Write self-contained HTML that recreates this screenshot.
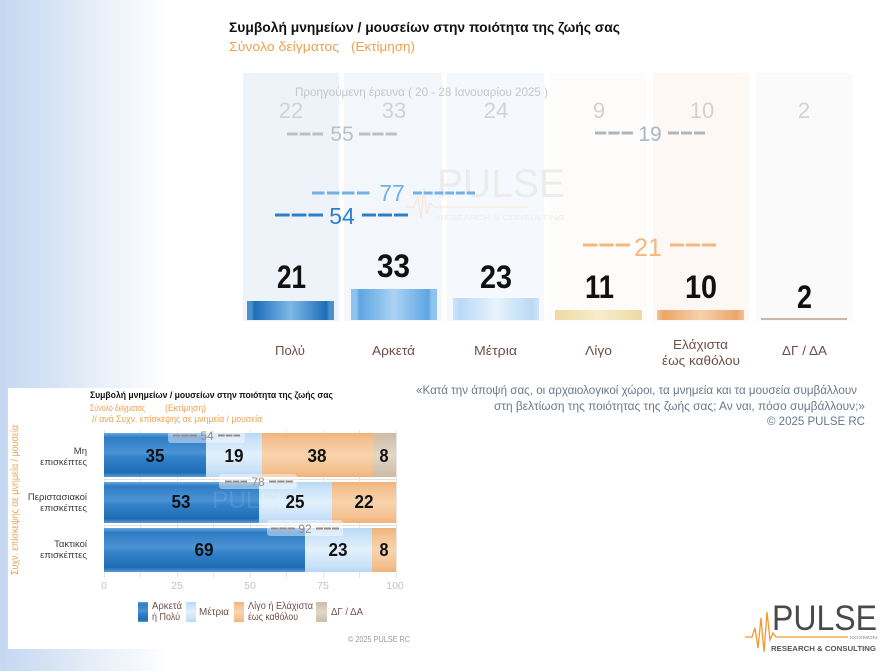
<!DOCTYPE html>
<html><head><meta charset="utf-8"><style>
html,body{margin:0;padding:0;background:#fff;}
svg{display:block;font-family:"Liberation Sans","DejaVu Sans",sans-serif;}
</style></head><body>
<svg width="887" height="671" viewBox="0 0 887 671" xmlns="http://www.w3.org/2000/svg">
<defs>
<linearGradient id="bgL" x1="0" x2="1" y1="0" y2="0">
<stop offset="0" stop-color="#c5d7f1"/><stop offset="0.3" stop-color="#d6e3f4"/><stop offset="0.6" stop-color="#e9f0fa"/><stop offset="0.88" stop-color="#f8fafd"/><stop offset="1" stop-color="#ffffff"/>
</linearGradient>
<linearGradient id="g1" x1="0" x2="1" y1="0" y2="0">
<stop offset="0" stop-color="#4b8fcb"/><stop offset="0.05" stop-color="#4b8fcb"/><stop offset="0.09" stop-color="#1e6db6"/><stop offset="0.3" stop-color="#4f95d5"/><stop offset="0.5" stop-color="#80b8e6"/><stop offset="0.7" stop-color="#4f95d5"/><stop offset="0.91" stop-color="#1e6db6"/><stop offset="0.95" stop-color="#4b8fcb"/><stop offset="1" stop-color="#4b8fcb"/>
</linearGradient>
<linearGradient id="g2" x1="0" x2="1" y1="0" y2="0">
<stop offset="0" stop-color="#8ec3ef"/><stop offset="0.06" stop-color="#8ec3ef"/><stop offset="0.1" stop-color="#5ea5e3"/><stop offset="0.5" stop-color="#acd3f4"/><stop offset="0.9" stop-color="#5ea5e3"/><stop offset="0.94" stop-color="#8ec3ef"/><stop offset="1" stop-color="#8ec3ef"/>
</linearGradient>
<linearGradient id="g3" x1="0" x2="1" y1="0" y2="0">
<stop offset="0" stop-color="#cfe5f9"/><stop offset="0.08" stop-color="#b9d9f5"/><stop offset="0.5" stop-color="#e8f3fd"/><stop offset="0.92" stop-color="#b9d9f5"/><stop offset="1" stop-color="#cfe5f9"/>
</linearGradient>
<linearGradient id="g4" x1="0" x2="1" y1="0" y2="0">
<stop offset="0" stop-color="#eed9a2"/><stop offset="0.5" stop-color="#f7edcb"/><stop offset="1" stop-color="#eed9a2"/>
</linearGradient>
<linearGradient id="g5" x1="0" x2="1" y1="0" y2="0">
<stop offset="0" stop-color="#f2c397"/><stop offset="0.08" stop-color="#eda66a"/><stop offset="0.5" stop-color="#f7d0ac"/><stop offset="0.92" stop-color="#eda66a"/><stop offset="1" stop-color="#f2c397"/>
</linearGradient>
<linearGradient id="hb1" x1="0" x2="0" y1="0" y2="1">
<stop offset="0" stop-color="#6aa8e0"/><stop offset="0.1" stop-color="#2f7cc4"/><stop offset="0.45" stop-color="#4b93d4"/><stop offset="0.55" stop-color="#3383ca"/><stop offset="0.9" stop-color="#1f6cb4"/><stop offset="1" stop-color="#5a9cd8"/>
</linearGradient>
<linearGradient id="hb2" x1="0" x2="0" y1="0" y2="1">
<stop offset="0" stop-color="#b7d8f5"/><stop offset="0.15" stop-color="#c9e2f8"/><stop offset="0.5" stop-color="#e2f0fc"/><stop offset="0.85" stop-color="#c9e2f8"/><stop offset="1" stop-color="#b7d8f5"/>
</linearGradient>
<linearGradient id="hb3" x1="0" x2="0" y1="0" y2="1">
<stop offset="0" stop-color="#f0b27a"/><stop offset="0.15" stop-color="#f4c190"/><stop offset="0.5" stop-color="#f8d3ae"/><stop offset="0.85" stop-color="#f4c190"/><stop offset="1" stop-color="#f0b27a"/>
</linearGradient>
<linearGradient id="hb4" x1="0" x2="0" y1="0" y2="1">
<stop offset="0" stop-color="#cdbca6"/><stop offset="0.5" stop-color="#e2d6c6"/><stop offset="1" stop-color="#cdbca6"/>
</linearGradient>
</defs>

<rect x="0" y="0" width="168" height="671" fill="url(#bgL)"/>

<!-- ============ TOP CHART ============ -->
<text x="229" y="32" font-size="14" font-weight="bold" fill="#111" textLength="391" lengthAdjust="spacingAndGlyphs">Συμβολή μνημείων / μουσείων στην ποιότητα της ζωής σας</text>
<text x="229" y="51" font-size="13" fill="#f0a050" textLength="110" lengthAdjust="spacingAndGlyphs">Σύνολο δείγματος</text>
<text x="351" y="51" font-size="13" fill="#f0a050" textLength="64" lengthAdjust="spacingAndGlyphs">(Εκτίμηση)</text>

<rect x="243" y="73" width="96" height="248" fill="#eef3f9"/>
<rect x="344" y="73" width="98" height="248" fill="#f3f7fc"/>
<rect x="447" y="73" width="97" height="248" fill="#f5f9fd"/>
<rect x="550" y="73" width="97" height="248" fill="#fdfcfa"/>
<rect x="653" y="73" width="96" height="248" fill="#fdf8f3"/>
<rect x="756" y="73" width="97" height="248" fill="#fafafa"/>

<text x="437" y="197" font-size="40" fill="#ececec" textLength="128" lengthAdjust="spacingAndGlyphs">PULSE</text>
<text x="437" y="220" font-size="7" fill="#ececec" textLength="128" lengthAdjust="spacingAndGlyphs">RESEARCH &amp; CONSULTING</text>
<polyline points="405,207 414,207 418,196 421,218 424,188 427,214 430,203 434,207 528,207" fill="none" stroke="#f9e4d0" stroke-width="1"/>

<text x="295" y="96" font-size="12" fill="#c3c7cc" textLength="253" lengthAdjust="spacingAndGlyphs">Προηγούμενη έρευνα ( 20 - 28 Ιανουαρίου 2025 )</text>

<g font-size="22" fill="#d2d2d2" text-anchor="middle">
<text x="291" y="118">22</text>
<text x="394" y="118">33</text>
<text x="496" y="118">24</text>
<text x="599" y="118">9</text>
<text x="702" y="118">10</text>
<text x="804" y="118">2</text>
</g>

<line x1="287" y1="134" x2="323" y2="134" stroke="#b9c1c8" stroke-width="3" stroke-dasharray="10.7 2"/>
<line x1="359" y1="134" x2="397" y2="134" stroke="#b9c1c8" stroke-width="3" stroke-dasharray="11.3 2"/>
<text x="342" y="141" font-size="21" fill="#b9c1c8" text-anchor="middle">55</text>
<line x1="595" y1="133" x2="633" y2="133" stroke="#a9b7c3" stroke-width="3" stroke-dasharray="11.3 2"/>
<line x1="668" y1="133" x2="705" y2="133" stroke="#a9b7c3" stroke-width="3" stroke-dasharray="11 2"/>
<text x="650" y="141" font-size="21" fill="#a9b7c3" text-anchor="middle">19</text>
<line x1="312" y1="193" x2="370" y2="193" stroke="#72b0e8" stroke-width="3" stroke-dasharray="12.5 2.5"/>
<line x1="413" y1="193" x2="475" y2="193" stroke="#72b0e8" stroke-width="3" stroke-dasharray="9 1.7"/>
<text x="392" y="201" font-size="23" fill="#72b0e8" text-anchor="middle">77</text>
<line x1="275" y1="215" x2="323" y2="215" stroke="#2f7fc6" stroke-width="3" stroke-dasharray="14.7 2"/>
<line x1="362" y1="215" x2="408" y2="215" stroke="#2f7fc6" stroke-width="3" stroke-dasharray="14 2"/>
<text x="342" y="224" font-size="23" fill="#2f7fc6" text-anchor="middle">54</text>
<line x1="583" y1="245" x2="630" y2="245" stroke="#f5b77c" stroke-width="3" stroke-dasharray="14.3 2"/>
<line x1="670" y1="245" x2="716" y2="245" stroke="#f5b77c" stroke-width="3" stroke-dasharray="14 2"/>
<text x="648" y="256" font-size="25" fill="#f5b77c" text-anchor="middle">21</text>

<rect x="247" y="301" width="87" height="19" fill="url(#g1)"/>
<rect x="351" y="289" width="86" height="31" fill="url(#g2)"/>
<rect x="453" y="298" width="86" height="22" fill="url(#g3)"/>
<rect x="555" y="310" width="87" height="10" fill="url(#g4)"/>
<rect x="657" y="310" width="87" height="10" fill="url(#g5)"/>
<rect x="761" y="318" width="86" height="2" fill="#c8b6a6"/>

<g font-size="32" font-weight="bold" fill="#111">
<text x="277" y="288" textLength="29" lengthAdjust="spacingAndGlyphs">21</text>
<text x="377" y="277" textLength="33" lengthAdjust="spacingAndGlyphs">33</text>
<text x="480" y="288" textLength="32" lengthAdjust="spacingAndGlyphs">23</text>
<text x="585" y="298" textLength="29" lengthAdjust="spacingAndGlyphs">11</text>
<text x="685" y="298" textLength="32" lengthAdjust="spacingAndGlyphs">10</text>
<text x="797" y="308" textLength="15" lengthAdjust="spacingAndGlyphs">2</text>
</g>

<g font-size="13" fill="#6e5048">
<text x="275" y="355" textLength="30" lengthAdjust="spacingAndGlyphs">Πολύ</text>
<text x="372" y="355" textLength="43" lengthAdjust="spacingAndGlyphs">Αρκετά</text>
<text x="474" y="355" textLength="43" lengthAdjust="spacingAndGlyphs">Μέτρια</text>
<text x="585" y="355" textLength="27" lengthAdjust="spacingAndGlyphs">Λίγο</text>
<text x="673" y="349" textLength="55" lengthAdjust="spacingAndGlyphs">Ελάχιστα</text>
<text x="662" y="365" textLength="78" lengthAdjust="spacingAndGlyphs">έως καθόλου</text>
<text x="782" y="355" textLength="45" lengthAdjust="spacingAndGlyphs">ΔΓ / ΔΑ</text>
</g>

<!-- ============ BOTTOM LEFT CARD ============ -->
<rect x="8" y="388" width="412" height="261" fill="#ffffff"/>

<text x="90" y="398" font-size="9.5" font-weight="bold" fill="#111" textLength="243" lengthAdjust="spacingAndGlyphs">Συμβολή μνημείων / μουσείων στην ποιότητα της ζωής σας</text>
<text x="90" y="411" font-size="9.5" fill="#f0a050" textLength="55" lengthAdjust="spacingAndGlyphs">Σύνολο δείγματος</text>
<text x="165" y="411" font-size="9.5" fill="#f0a050" textLength="41" lengthAdjust="spacingAndGlyphs">(Εκτίμηση)</text>
<text x="92" y="422" font-size="9.5" fill="#f0a050" textLength="170" lengthAdjust="spacingAndGlyphs">// ανά Συχν. επίσκεψης σε μνημεία / μουσεία</text>

<text transform="translate(18,575) rotate(-90)" font-size="10" fill="#f0a050" textLength="150" lengthAdjust="spacingAndGlyphs">Συχν. επίσκεψης σε μνημεία / μουσεία</text>

<g stroke="#e6e6e6" stroke-width="1">
<line x1="104.5" y1="430" x2="104.5" y2="578"/>
<line x1="140.5" y1="430" x2="140.5" y2="578"/>
<line x1="177.5" y1="430" x2="177.5" y2="578"/>
<line x1="213.5" y1="430" x2="213.5" y2="578"/>
<line x1="250.5" y1="430" x2="250.5" y2="578"/>
<line x1="286.5" y1="430" x2="286.5" y2="578"/>
<line x1="323.5" y1="430" x2="323.5" y2="578"/>
<line x1="359.5" y1="430" x2="359.5" y2="578"/>
<line x1="396.5" y1="430" x2="396.5" y2="578"/>
</g>
<line x1="104" y1="479.5" x2="396" y2="479.5" stroke="#e0e0e0"/>
<line x1="104" y1="525.5" x2="396" y2="525.5" stroke="#e0e0e0"/>

<rect x="104" y="433" width="102" height="44" fill="url(#hb1)"/>
<rect x="206" y="433" width="56" height="44" fill="url(#hb2)"/>
<rect x="262" y="433" width="111" height="44" fill="url(#hb3)"/>
<rect x="373" y="433" width="23" height="44" fill="url(#hb4)"/>
<rect x="104" y="482" width="155" height="41" fill="url(#hb1)"/>
<rect x="259" y="482" width="73" height="41" fill="url(#hb2)"/>
<rect x="332" y="482" width="64" height="41" fill="url(#hb3)"/>
<rect x="104" y="528" width="201" height="44" fill="url(#hb1)"/>
<rect x="305" y="528" width="67" height="44" fill="url(#hb2)"/>
<rect x="372" y="528" width="24" height="44" fill="url(#hb3)"/>

<text x="212" y="508" font-size="24" fill="#ffffff" fill-opacity="0.1" textLength="80" lengthAdjust="spacingAndGlyphs">PULSE</text>

<g font-size="18" font-weight="bold" fill="#111" text-anchor="middle">
<text x="155" y="462" textLength="19" lengthAdjust="spacingAndGlyphs">35</text>
<text x="234" y="462" textLength="19" lengthAdjust="spacingAndGlyphs">19</text>
<text x="317" y="462" textLength="19" lengthAdjust="spacingAndGlyphs">38</text>
<text x="384" y="462" textLength="9" lengthAdjust="spacingAndGlyphs">8</text>
<text x="181" y="508" textLength="19" lengthAdjust="spacingAndGlyphs">53</text>
<text x="295" y="508" textLength="19" lengthAdjust="spacingAndGlyphs">25</text>
<text x="364" y="508" textLength="19" lengthAdjust="spacingAndGlyphs">22</text>
<text x="204" y="556" textLength="19" lengthAdjust="spacingAndGlyphs">69</text>
<text x="338" y="556" textLength="19" lengthAdjust="spacingAndGlyphs">23</text>
<text x="384" y="556" textLength="9" lengthAdjust="spacingAndGlyphs">8</text>
</g>

<rect x="168" y="430" width="77" height="13" rx="3" fill="#ffffff" fill-opacity="0.45"/>
<line x1="173" y1="435.5" x2="197" y2="435.5" stroke="#9b8a82" stroke-width="2" stroke-dasharray="7.3 1"/>
<line x1="218" y1="435.5" x2="240" y2="435.5" stroke="#9b8a82" stroke-width="2" stroke-dasharray="6.7 1"/>
<text x="207" y="440" font-size="12" fill="#9b8a82" text-anchor="middle">54</text>

<rect x="219" y="474" width="78" height="15" rx="3" fill="#ffffff" fill-opacity="0.45"/>
<line x1="225" y1="481.5" x2="247" y2="481.5" stroke="#9b8a82" stroke-width="2" stroke-dasharray="6.7 1"/>
<line x1="269" y1="481.5" x2="293" y2="481.5" stroke="#9b8a82" stroke-width="2" stroke-dasharray="7.3 1"/>
<text x="258" y="486" font-size="12" fill="#9b8a82" text-anchor="middle">78</text>

<rect x="267" y="520" width="76" height="16" rx="3" fill="#ffffff" fill-opacity="0.45"/>
<line x1="271" y1="528.5" x2="295" y2="528.5" stroke="#9b8a82" stroke-width="2" stroke-dasharray="7.3 1"/>
<line x1="316" y1="528.5" x2="339" y2="528.5" stroke="#9b8a82" stroke-width="2" stroke-dasharray="7 1"/>
<text x="305" y="533" font-size="12" fill="#9b8a82" text-anchor="middle">92</text>

<g font-size="9.5" fill="#3a3a3a" text-anchor="end">
<text x="87" y="454">Μη</text>
<text x="87" y="465">επισκέπτες</text>
<text x="87" y="500">Περιστασιακοί</text>
<text x="87" y="511">επισκέπτες</text>
<text x="87" y="547">Τακτικοί</text>
<text x="87" y="558">επισκέπτες</text>
</g>

<g font-size="10.5" fill="#c2c2c2" text-anchor="middle">
<text x="104" y="589">0</text>
<text x="177" y="589">25</text>
<text x="250" y="589">50</text>
<text x="323" y="589">75</text>
<text x="395" y="589">100</text>
</g>

<rect x="138" y="602" width="10" height="20" fill="url(#hb1)"/>
<rect x="186" y="602" width="10" height="20" fill="url(#hb2)"/>
<rect x="234" y="602" width="10" height="20" fill="url(#hb3)"/>
<rect x="316" y="602" width="11" height="20" fill="url(#hb4)"/>
<g font-size="10" fill="#6e5048">
<text x="152" y="609" textLength="30" lengthAdjust="spacingAndGlyphs">Αρκετά</text>
<text x="152" y="620" textLength="28" lengthAdjust="spacingAndGlyphs">ή Πολύ</text>
<text x="199" y="615" textLength="30" lengthAdjust="spacingAndGlyphs">Μέτρια</text>
<text x="248" y="609" textLength="65" lengthAdjust="spacingAndGlyphs">Λίγο ή Ελάχιστα</text>
<text x="248" y="620" textLength="50" lengthAdjust="spacingAndGlyphs">έως καθόλου</text>
<text x="331" y="615" textLength="32" lengthAdjust="spacingAndGlyphs">ΔΓ / ΔΑ</text>
</g>

<text x="348" y="642" font-size="8" fill="#9a9a9a" textLength="62" lengthAdjust="spacingAndGlyphs">©  2025  PULSE RC</text>

<g font-size="12" fill="#6a7887">
<text x="416" y="394" textLength="441" lengthAdjust="spacingAndGlyphs">«Κατά την άποψή σας, οι αρχαιολογικοί χώροι, τα μνημεία και τα μουσεία συμβάλλουν</text>
<text x="494" y="410" textLength="371" lengthAdjust="spacingAndGlyphs">στη βελτίωση της ποιότητας της ζωής σας; Αν ναι, πόσο συμβάλλουν;»</text>
<text x="767" y="425" textLength="98" lengthAdjust="spacingAndGlyphs">©  2025  PULSE RC</text>
</g>

<text x="772" y="630" font-size="35" fill="#4a4a4a" textLength="105" lengthAdjust="spacingAndGlyphs">PULSE</text>
<polyline points="745,637 752,637 755,628 758,648 761,618 764,652 767,612 770,640 773,633 776,637 848,637" fill="none" stroke="#f29a2e" stroke-width="1.3"/>
<text x="850" y="639" font-size="4.5" fill="#888" textLength="27" lengthAdjust="spacingAndGlyphs">KOSMON</text>
<text x="771" y="651" font-size="7.5" fill="#555" font-weight="bold" textLength="105" lengthAdjust="spacingAndGlyphs">RESEARCH &amp; CONSULTING</text>
</svg>
</body></html>
